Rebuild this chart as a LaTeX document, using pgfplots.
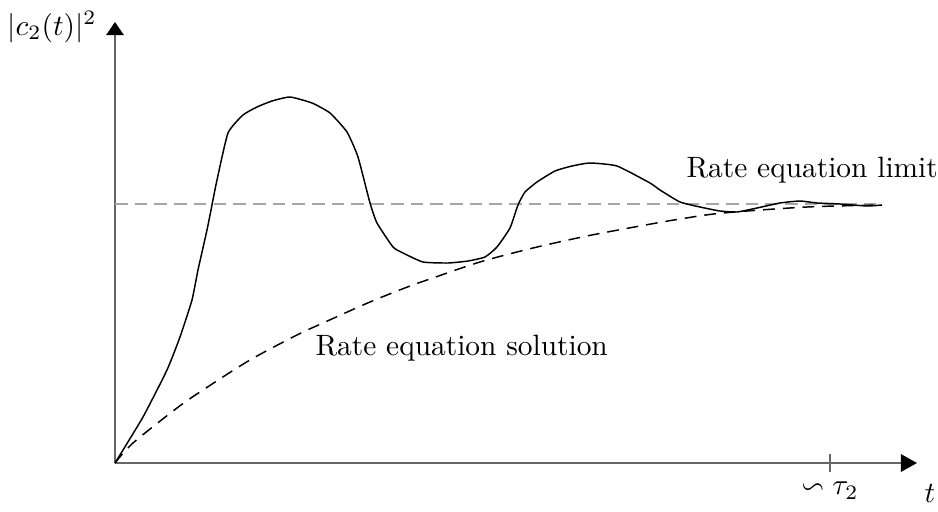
\documentclass[border=0pt]{standalone}
\usepackage{amssymb}
\usepackage{pgfplots}
\pgfplotsset{compat=1.18}
\usetikzlibrary{arrows.meta}

\begin{document}
\begin{tikzpicture}
\begin{axis}[
  x=0.34pt, y=0.34pt,
  xmin=0, xmax=802, ymin=0, ymax=441,
  axis lines=left,
  axis line style={draw=black!60, line width=0.55pt},
  every outer x axis line/.append style={-{Triangle[color=black,length=5.5pt,width=6pt]}},
  every outer y axis line/.append style={-{Triangle[color=black,length=4.5pt,width=6pt]}},
  xtick={715}, xticklabels={$\backsim\tau_2$},
  ytick=\empty,
  tick align=center,
  major tick length=6pt,
  tick style={draw=black!60, line width=0.55pt},
  clip=false,
]
% overall extent of the figure
\path[draw=none] (axis cs:-115,-49) rectangle (axis cs:823,463);

% long-time limit of the rate equation
\addplot[black!35, line width=0.65pt, dash pattern=on 4.3pt off 2.4pt]
  coordinates {(0,259) (767,259)};

% rate equation solution
\addplot[black, line width=0.5pt, dash pattern=on 4pt off 2.7pt, smooth]
  coordinates {
    (0,0) (18,20) (62,55) (88,73) (135,103) (182,128) (208,140)
    (255,161) (295,177) (315,184) (365,201) (418,215) (472,227)
    (525,237) (565,244) (608,250) (692,256) (767,258)
  };

% exact population
\addplot[black, line width=0.5pt, smooth, tension=0.3]
  coordinates {
    (0,0) (28,46) (52,93) (65,126) (77,163) (83,193) (92,233) (97,258)
    (102,283) (113,330) (128,348) (142,356) (157,362) (175,366)
    (197,360) (215,350) (232,331) (243,306) (255,260) (262,240)
    (278,216) (288,210) (308,201) (333,200) (353,202) (370,206)
    (382,216) (395,235) (403,258) (410,271) (422,281) (440,292)
    (457,297) (475,300) (502,297) (535,280) (545,273) (565,261)
    (585,256) (605,252) (622,251) (642,255) (665,260) (685,262)
    (702,260) (725,259) (752,257) (767,258)
  };

\node[anchor=base west, inner sep=0pt] at (axis cs:571,286) {Rate equation limit};
\node[anchor=base west, inner sep=0pt] at (axis cs:200,108) {Rate equation solution};
\node[inner sep=0pt] at (axis cs:-63,436) {$|c_2(t)|^2$};
\node[inner sep=0pt] at (axis cs:815,-30) {$t$};
\end{axis}
\end{tikzpicture}
\end{document}
